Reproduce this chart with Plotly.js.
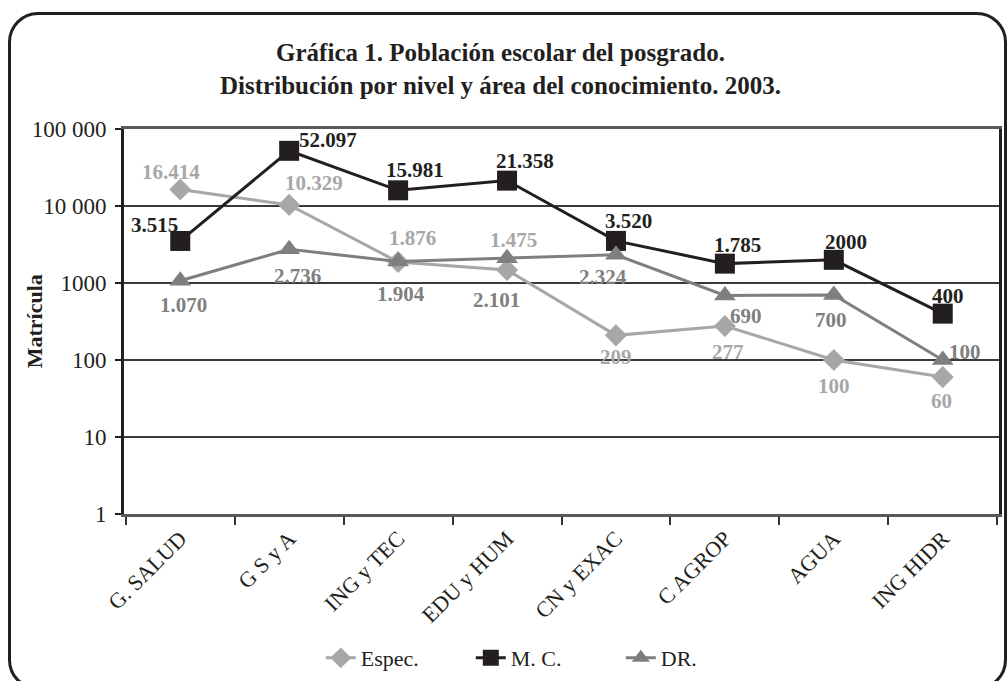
<!DOCTYPE html>
<html>
<head>
<meta charset="utf-8">
<script src="https://cdn.plot.ly/plotly-3.0.1.min.js"></script>
<style>
  html, body { margin: 0; padding: 0; width: 1007px; height: 681px; overflow: hidden; background: #fff; }
  #chart { position: absolute; left: 0; top: 0; width: 1007px; height: 681px; }
  #frame { position: absolute; left: 8px; top: 12px; width: 993px; height: 672px;
           border: 3px solid #231f20; border-radius: 30px; pointer-events: none; }
</style>
</head>
<body>
<div id="chart"></div>
<div id="frame"></div>
<script>
// ---- data ----
const categories = ["G. SALUD", "G S y A", "ING y TEC", "EDU y HUM", "CN y EXAC", "C AGROP", "AGUA", "ING HIDR"];
const espec = [16414, 10329, 1876, 1475, 209, 277, 100, 60];
const mc    = [3515, 52097, 15981, 21358, 3520, 1785, 2000, 400];
const dr    = [1070, 2736, 1904, 2101, 2324, 690, 700, 100];
const especLabels = ["16.414", "10.329", "1.876", "1.475", "209", "277", "100", "60"];
const mcLabels    = ["3.515", "52.097", "15.981", "21.358", "3.520", "1.785", "2000", "400"];
const drLabels    = ["1.070", "2.736", "1.904", "2.101", "2.324", "690", "700", "100"];
const yTickVals = [1, 10, 100, 1000, 10000, 100000];
const yTickText = ["1", "10", "100", "1000", "10 000", "100 000"];

// ---- style ----
const FONT = "Liberation Serif, Times New Roman, serif";
const colEspec = "#a7a7a9", colMC = "#231f20", colDR = "#7f7f80";
// label offsets (px) relative to each point
const especOff = [[-9,17],[25,22],[14,24],[6,30],[0,-22],[3,-26],[0,-26],[-1,-24]];
const mcOff    = [[-26,16],[39,11],[17,20],[18,20],[13,20],[13,19],[12,18],[5,18]];
const drOff    = [[3,-24],[8,-27],[3,-33],[-11,-42],[-13,-22],[21,-21],[-3,-25],[22,8]];

const traces = [
  { name: "Espec.", x: categories, y: espec, type: "scatter", mode: "lines+markers",
    line: { color: colEspec, width: 3 }, marker: { symbol: "diamond", size: 17, color: colEspec } },
  { name: "M. C.", x: categories, y: mc, type: "scatter", mode: "lines+markers",
    line: { color: colMC, width: 3 }, marker: { symbol: "square", size: 20, color: colMC } },
  { name: "DR.", x: categories, y: dr, type: "scatter", mode: "lines+markers",
    line: { color: colDR, width: 3 }, marker: { symbol: "triangle-up", size: 19, color: colDR } }
];

const annotations = [];
function addLabels(vals, labels, offs, color) {
  vals.forEach((v, i) => {
    annotations.push({ x: categories[i], y: Math.log10(v), xref: "x", yref: "y",
      text: labels[i], showarrow: false, xshift: offs[i][0], yshift: offs[i][1],
      font: { family: FONT, size: 21, color: color, weight: "bold" } });
  });
}
addLabels(espec, especLabels, especOff, colEspec);
addLabels(mc, mcLabels, mcOff, colMC);
addLabels(dr, drLabels, drOff, colDR);

// y-axis title as rotated text
annotations.push({ text: "<b>Matrícula</b>", xref: "paper", yref: "paper", x: -0.102, y: 0.5,
  xanchor: "center", yanchor: "middle", textangle: -90, showarrow: false,
  font: { family: FONT, size: 22, color: "#231f20" } });

const layout = {
  width: 1007, height: 681,
  margin: { l: 124, r: 8, t: 129, b: 167 },
  paper_bgcolor: "rgba(0,0,0,0)", plot_bgcolor: "rgba(0,0,0,0)",
  font: { family: FONT, color: "#231f20" },
  title: { text: "<b>Gráfica 1. Población escolar del posgrado.<br>Distribución por nivel y área del conocimiento. 2003.</b>",
    x: 0.497, xanchor: "center", y: 1 - 61 / 681, yanchor: "middle", yref: "container",
    font: { family: FONT, size: 25, color: "#231f20" } },
  xaxis: { type: "category", tickangle: -45, tickson: "boundaries", ticks: "outside", ticklen: 8,
    tickcolor: "#333", tickwidth: 2, showline: true, linecolor: "#5a5a5a", linewidth: 3, mirror: true,
    showgrid: false, tickfont: { family: FONT, size: 22, color: "#231f20" } },
  yaxis: { type: "log", range: [0, 5], tickvals: yTickVals, ticktext: yTickText,
    ticks: "outside", ticklen: 6, tickcolor: "#231f20", tickwidth: 2, ticklabelstandoff: 4,
    showline: true, linecolor: "#231f20", linewidth: 3, mirror: true,
    showgrid: true, gridcolor: "#3a3a3a", gridwidth: 1.5, zeroline: false,
    tickfont: { family: FONT, size: 23, color: "#231f20" } },
  legend: { orientation: "h", xref: "container", yref: "container", x: 0.542, xanchor: "center",
    y: 1 - 658 / 681, yanchor: "middle", font: { family: FONT, size: 22, color: "#231f20" },
    entrywidth: 105, bgcolor: "rgba(0,0,0,0)" },
  showlegend: true,
  annotations: annotations
};

Plotly.newPlot("chart", traces, layout, { displayModeBar: false, staticPlot: true });
</script>
</body>
</html>
